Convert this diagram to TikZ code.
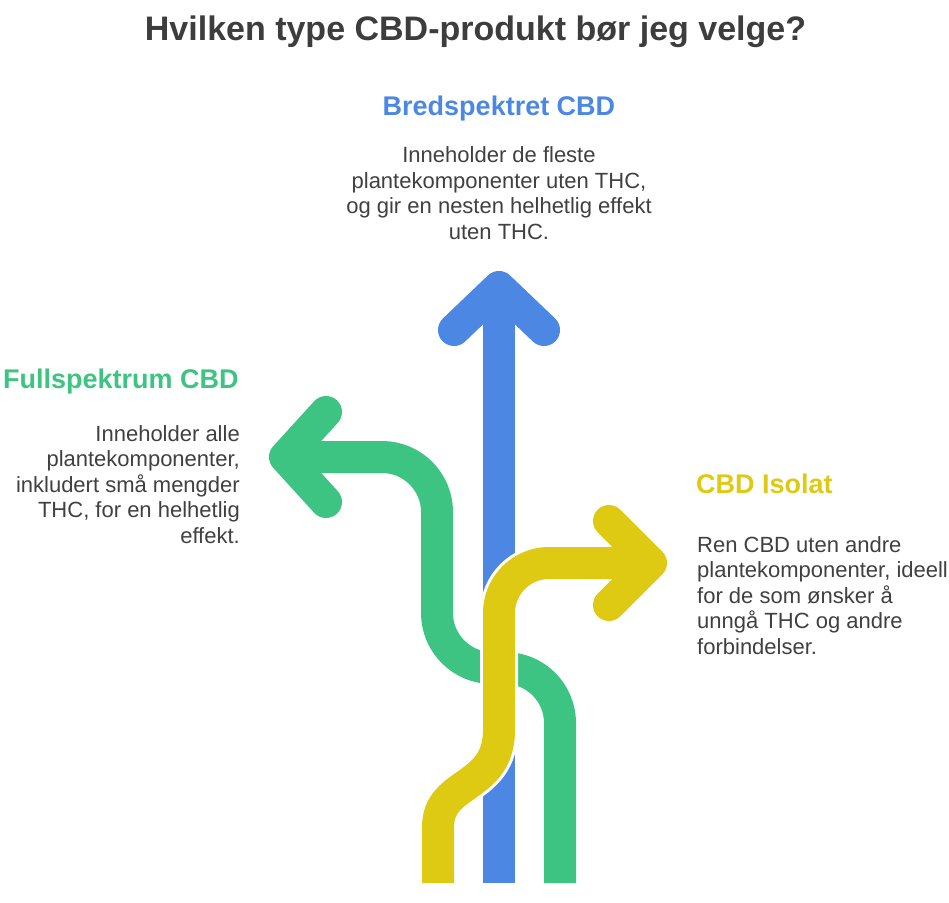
\documentclass[tikz,border=0pt]{standalone}
\usepackage{fontspec}
\setmainfont{Liberation Sans}
\definecolor{cblue}{HTML}{4B87E3}
\definecolor{cgreen}{HTML}{3DC482}
\definecolor{cyellow}{HTML}{DECA13}
\definecolor{ctext}{HTML}{404040}
\definecolor{ctitle}{HTML}{3D3D3D}
\begin{document}
\begin{tikzpicture}[x=1pt,y=-1pt,
  band/.style={line width=32pt,line cap=butt,line join=round},
  chevron/.style={line width=32pt,line cap=round,line join=round},
  casing/.style={line width=38pt,line cap=butt,draw=white},
  headtext/.style={font=\fontsize{27}{30}\selectfont\bfseries,inner sep=0pt},
  bodytext/.style={font=\fontsize{22}{25.5}\selectfont,text=ctext,inner sep=0pt},
]
\useasboundingbox (0,0) rectangle (949,902);
\node[font=\fontsize{34}{38}\selectfont\bfseries,text=ctitle,anchor=base,inner sep=0pt] (title) at (475.5,40) {Hvilken type CBD-produkt bør jeg velge?};

% blue arrow
\coordinate (bs) at (499,883);
\coordinate (bt) at (499,287);
\draw[band,draw=cblue] (bs) -- (bt);
\draw[chevron,draw=cblue] (454,330) -- (bt) -- (544,330);

% green arrow
\coordinate (gs) at (560,883);
\coordinate (gt) at (285,457);
\draw[band,draw=cgreen,rounded corners=55pt] (gs) -- (560,668) -- (437,668) -- (437,457) -- (gt);
\draw[chevron,draw=cgreen] (326,412) -- (gt) -- (326,502);

% yellow arrow with white casing
\coordinate (ys) at (438,883);
\coordinate (yt) at (651,563);
\draw[casing] (ys) -- (438,827) .. controls (438,780) and (499,790) .. (499,730) [rounded corners=50pt] -- (499,563) -- (yt);
\draw[band,draw=cyellow] (ys) -- (438,827) .. controls (438,780) and (499,790) .. (499,730) [rounded corners=50pt] -- (499,563) -- (yt);
\draw[chevron,draw=cyellow] (609,521) -- (yt) -- (609,605);

% texts (base anchor = baseline of last line)
\node[headtext,text=cblue,anchor=base] (bh) at (499,115) {Bredspektret CBD};
\node[bodytext,align=center,anchor=base] (bb) at (499,239) {Inneholder de fleste\\plantekomponenter uten THC,\\og gir en nesten helhetlig effekt\\uten THC.};

\node[headtext,text=cgreen,anchor=base west] (gh) at (3,388) {Fullspektrum CBD};
\node[bodytext,align=right,anchor=base east] (gb) at (240,543) {Inneholder alle\\plantekomponenter,\\inkludert små mengder\\THC, for en helhetlig\\effekt.};

\node[headtext,text=cyellow,anchor=base west] (yh) at (696,493) {CBD Isolat};
\node[bodytext,align=left,anchor=base west] (yb) at (697,654) {Ren CBD uten andre\\plantekomponenter, ideell\\for de som ønsker å\\unngå THC og andre\\forbindelser.};
\end{tikzpicture}
\end{document}
